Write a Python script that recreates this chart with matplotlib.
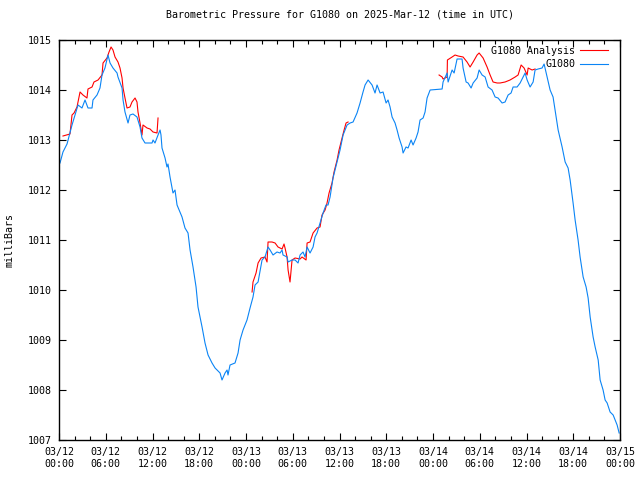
import datetime as dt
import matplotlib
matplotlib.use("Agg")
import matplotlib.pyplot as plt
import matplotlib.dates as mdates

# hours since 2025-03-12 00:00 UTC, pressure in mb
obs_hours = [0.13, 0.51, 1.03, 1.67, 2.05, 2.44, 2.95, 3.34, 3.72, 4.24, 4.36, 4.88, 5.26, 5.52,
             5.90, 6.29, 6.55, 6.93, 7.45, 7.57, 8.09, 8.22, 8.47, 8.86, 9.11, 9.50, 10.01, 10.40,
             10.65, 11.04, 11.94, 12.07, 12.32, 12.71, 12.97, 13.09, 13.22, 13.61, 13.86, 13.99,
             14.25, 14.63, 14.89, 15.15, 15.79, 16.17, 16.56, 16.82, 17.20, 17.59, 17.84, 18.36,
             18.74, 19.13, 19.64, 20.03, 20.67, 20.92, 21.31, 21.57, 21.69, 21.95, 22.59, 22.98,
             23.24, 23.62, 24.13, 24.52, 24.90, 25.16, 25.55, 26.06, 26.44, 26.83, 27.09, 27.47,
             27.98, 28.37, 28.63, 28.75, 29.27, 29.40, 29.91, 30.30, 30.68, 30.94, 31.32, 31.58,
             31.84, 32.22, 32.61, 32.86, 33.12, 33.50, 33.89, 34.27, 34.53, 34.79, 35.17, 35.69,
             36.07, 36.46, 36.97, 37.36, 37.74, 38.25, 38.64, 39.02, 39.28, 39.67, 40.18, 40.56,
             40.82, 41.21, 41.59, 41.98, 42.23, 42.49, 42.75, 43.13, 43.39, 43.65, 44.03, 44.16,
             44.54, 44.80, 45.19, 45.44, 45.83, 46.08, 46.34, 46.73, 46.98, 47.24, 47.63, 49.17,
             49.29, 49.81, 49.94, 50.45, 50.71, 51.09, 51.73, 51.86, 52.25, 52.50, 52.89, 53.15,
             53.66, 53.92, 54.30, 54.69, 55.07, 55.58, 55.97, 56.35, 56.87, 57.25, 57.64, 58.02,
             58.28, 58.79, 59.18, 59.56, 59.82, 60.08, 60.46, 60.85, 61.10, 61.49, 62.00, 62.26,
             62.64, 63.03, 63.41, 63.80, 64.06, 64.57, 64.96, 65.34, 65.60, 65.98, 66.24, 66.62,
             66.88, 67.27, 67.65, 67.91, 68.17, 68.55, 68.81, 69.20, 69.45, 69.83, 70.09, 70.35,
             70.73, 71.12, 71.37, 71.63, 71.89]
obs_mb = [1012.54, 1012.76, 1012.92, 1013.30, 1013.50, 1013.70, 1013.64, 1013.80, 1013.64, 1013.64,
          1013.80, 1013.90, 1014.04, 1014.30, 1014.44, 1014.70, 1014.54, 1014.44, 1014.34, 1014.26,
          1014.04, 1013.80, 1013.56, 1013.34, 1013.50, 1013.52, 1013.46, 1013.26, 1013.04, 1012.94,
          1012.94, 1013.00, 1012.94, 1013.10, 1013.20, 1013.10, 1012.84, 1012.64, 1012.46, 1012.52,
          1012.26, 1011.94, 1012.00, 1011.70, 1011.46, 1011.24, 1011.14, 1010.80, 1010.46, 1010.06,
          1009.66, 1009.26, 1008.94, 1008.70, 1008.54, 1008.44, 1008.34, 1008.20, 1008.34, 1008.40,
          1008.30, 1008.50, 1008.54, 1008.74, 1009.00, 1009.20, 1009.40, 1009.64, 1009.86, 1010.10,
          1010.16, 1010.60, 1010.66, 1010.86, 1010.80, 1010.70, 1010.76, 1010.74, 1010.80, 1010.70,
          1010.66, 1010.56, 1010.60, 1010.60, 1010.54, 1010.70, 1010.76, 1010.66, 1010.86, 1010.74,
          1010.86, 1011.06, 1011.14, 1011.34, 1011.54, 1011.70, 1011.70, 1011.86, 1012.24, 1012.56,
          1012.80, 1013.10, 1013.30, 1013.34, 1013.36, 1013.54, 1013.74, 1013.96, 1014.10, 1014.20,
          1014.10, 1013.94, 1014.10, 1013.94, 1013.96, 1013.74, 1013.80, 1013.66, 1013.46, 1013.34,
          1013.20, 1013.04, 1012.86, 1012.74, 1012.86, 1012.84, 1013.00, 1012.90, 1013.04, 1013.16,
          1013.40, 1013.44, 1013.56, 1013.84, 1014.00, 1014.02, 1014.16, 1014.34, 1014.16, 1014.40,
          1014.34, 1014.62, 1014.62, 1014.44, 1014.16, 1014.14, 1014.04, 1014.14, 1014.24, 1014.40,
          1014.30, 1014.26, 1014.06, 1014.00, 1013.86, 1013.84, 1013.74, 1013.76, 1013.90, 1013.94,
          1014.06, 1014.06, 1014.14, 1014.26, 1014.34, 1014.20, 1014.06, 1014.16, 1014.40, 1014.42,
          1014.44, 1014.52, 1014.26, 1014.00, 1013.86, 1013.46, 1013.20, 1012.86, 1012.56, 1012.44,
          1012.20, 1011.74, 1011.40, 1011.00, 1010.66, 1010.26, 1010.06, 1009.84, 1009.46, 1009.06,
          1008.86, 1008.60, 1008.20, 1008.00, 1007.80, 1007.74, 1007.56, 1007.50, 1007.40, 1007.30,
          1007.14]

# analysis comes in three separate runs
ana1_hours = [0.51, 1.41, 1.67, 1.93, 2.31, 2.70, 3.08, 3.59, 3.72, 4.24, 4.49, 5.01, 5.52, 5.65,
              6.16, 6.42, 6.68, 6.93, 7.19, 7.57, 7.83, 8.09, 8.22, 8.47, 8.73, 9.11, 9.37, 9.76,
              10.01, 10.14, 10.40, 10.65, 10.78, 11.30, 11.68, 12.07, 12.58, 12.71]
ana1_mb = [1013.08, 1013.12, 1013.50, 1013.54, 1013.66, 1013.96, 1013.90, 1013.84, 1014.02, 1014.06,
           1014.16, 1014.20, 1014.30, 1014.54, 1014.64, 1014.76, 1014.86, 1014.80, 1014.66, 1014.56,
           1014.44, 1014.24, 1014.04, 1013.84, 1013.64, 1013.66, 1013.76, 1013.84, 1013.76, 1013.56,
           1013.34, 1013.10, 1013.30, 1013.24, 1013.22, 1013.16, 1013.14, 1013.44]
ana2_hours = [24.78, 24.90, 25.29, 25.55, 25.93, 26.44, 26.70, 26.83, 27.34, 27.73, 28.11, 28.63,
              28.88, 29.01, 29.27, 29.40, 29.65, 29.91, 30.30, 30.94, 31.19, 31.71, 31.84, 32.22,
              32.61, 33.12, 33.50, 33.76, 34.15, 34.40, 34.66, 35.04, 35.30, 35.69, 35.94, 36.33,
              36.59, 36.84, 37.10]
ana2_mb = [1009.96, 1010.16, 1010.34, 1010.54, 1010.64, 1010.66, 1010.56, 1010.96, 1010.96, 1010.94,
           1010.86, 1010.82, 1010.92, 1010.84, 1010.66, 1010.40, 1010.16, 1010.60, 1010.64, 1010.62,
           1010.66, 1010.60, 1010.94, 1010.96, 1011.14, 1011.24, 1011.26, 1011.50, 1011.60, 1011.74,
           1011.94, 1012.14, 1012.36, 1012.60, 1012.80, 1013.04, 1013.20, 1013.34, 1013.36]
ana3_hours = [48.78, 49.17, 49.29, 49.55, 49.81, 49.85, 50.45, 50.83, 51.22, 51.86, 52.37, 52.76,
              53.15, 53.66, 53.92, 54.43, 54.94, 55.33, 55.71, 56.23, 56.61, 57.25, 57.89, 58.54,
              58.92, 59.31, 59.69, 60.08, 60.21, 60.72, 61.10]
ana3_mb = [1014.30, 1014.26, 1014.22, 1014.24, 1014.26, 1014.60, 1014.66, 1014.70, 1014.68, 1014.66,
           1014.56, 1014.46, 1014.56, 1014.70, 1014.74, 1014.64, 1014.46, 1014.30, 1014.16, 1014.14,
           1014.14, 1014.16, 1014.20, 1014.26, 1014.30, 1014.50, 1014.44, 1014.30, 1014.44, 1014.40,
           1014.42]

start = dt.datetime(2025, 3, 12)


def to_time(hours):
    return [start + dt.timedelta(hours=h) for h in hours]


plt.rcParams['font.family'] = 'DejaVu Sans Mono'
plt.rcParams['font.size'] = 7.2

fig = plt.figure(figsize=(6.4, 4.8), dpi=100)
ax = fig.add_axes([59 / 640, 40 / 480, 561 / 640, 400 / 480])

red = '#ff0000'
blue = '#0a84f5'
ax.plot(to_time(ana1_hours), ana1_mb, color=red, lw=0.8, label='G1080 Analysis')
ax.plot(to_time(ana2_hours), ana2_mb, color=red, lw=0.8)
ax.plot(to_time(ana3_hours), ana3_mb, color=red, lw=0.8)
ax.plot(to_time(obs_hours), obs_mb, color=blue, lw=0.8, label='G1080')

ax.set_xlim(start, start + dt.timedelta(hours=72))
ax.set_ylim(1007, 1015)
ax.set_yticks(range(1007, 1016))
ax.xaxis.set_major_locator(mdates.HourLocator(byhour=[0, 6, 12, 18]))
ax.xaxis.set_minor_locator(mdates.HourLocator(byhour=range(0, 24, 2)))
ax.xaxis.set_major_formatter(mdates.DateFormatter('%m/%d\n%H:%M'))
ax.tick_params(which='both', direction='in', top=True, right=True, color='black')
ax.tick_params(which='major', length=5, width=0.8, pad=5)
ax.tick_params(which='minor', length=3, width=0.8)
for s in ax.spines.values():
    s.set_linewidth(1.0)

ax.set_title('Barometric Pressure for G1080 on 2025-Mar-12 (time in UTC)', fontsize=7.2, pad=16)
ax.set_ylabel('milliBars', labelpad=10)

ax.legend(loc='upper right', bbox_to_anchor=(1 - 6 / 561, 1.0), frameon=False, markerfirst=False,
          handlelength=2.8, handletextpad=0.5, borderaxespad=0.2, labelspacing=0.35)

fig.savefig('out.png', dpi=100)
